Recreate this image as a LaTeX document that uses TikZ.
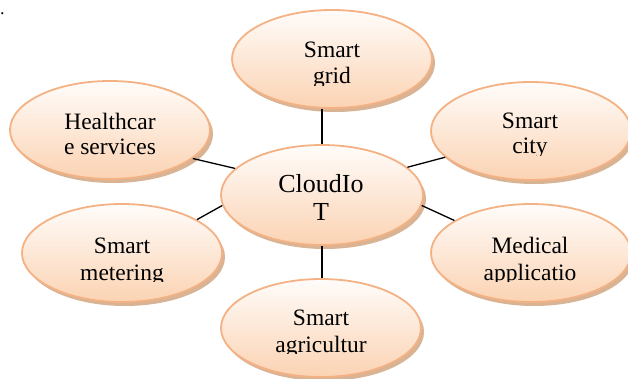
\documentclass[tikz,border=0pt]{standalone}
\usepackage{fontspec}
\setmainfont{Liberation Serif}
\usetikzlibrary{shapes.geometric,shadows}

\definecolor{rimpeach}{HTML}{F4B284}
\definecolor{fillhigh}{HTML}{FFFCFA}
\definecolor{filllow}{HTML}{FBD3B3}
\definecolor{shadebrown}{HTML}{D2A682}

\tikzset{
  bubble/.style={ellipse, draw=rimpeach, line width=1.8pt,
    top color=fillhigh, bottom color=filllow,
    minimum width=200pt, minimum height=98pt, inner sep=0pt,
    drop shadow={shadow xshift=3pt, shadow yshift=-4pt,
      fill=shadebrown, opacity=0.85}},
  hub/.style={bubble, minimum width=202pt, minimum height=100pt},
  lbl/.style={anchor=base, inner sep=0pt, font=\fontsize{23.5}{27}\selectfont},
  hublbl/.style={lbl, font=\fontsize{26}{28}\selectfont},
  link/.style={draw=black, line width=1.3pt}
}

% a two-line label whose second line is cut just below its baseline
\newcommand\bubbletext[7]{% name, x, base1, line1, base2, line2, style
  \node[#7] (#1a) at (#2,#3) {#4};
  \begin{scope}
    \clip (#2-100,#5-30) rectangle (#2+100,#5+1.5);
    \node[#7] (#1b) at (#2,#5) {#6};
  \end{scope}
}

\begin{document}
\begin{tikzpicture}[x=1pt,y=-1pt]
  \useasboundingbox (0,0) rectangle (628,379);
  \fill[white] (0,0) rectangle (628,379);

  \node[anchor=base, inner sep=0pt, font=\fontsize{18}{20}\selectfont] (dot) at (2.5,15) {.};

  % bubbles
  \node[hub]    (cloud)  at (322,195) {};
  \node[bubble] (grid)   at (332,59)  {};
  \node[bubble] (health) at (110,130) {};
  \node[bubble] (city)   at (531,131) {};
  \node[bubble] (meter)  at (122,253) {};
  \node[bubble] (medic)  at (531,253) {};
  \node[bubble] (agri)   at (321,328) {};

  % spokes from the hub
  \draw[link] (cloud.north) -- (cloud.north |- grid.south);
  \draw[link] (cloud.163) -- (health.341);
  \draw[link] (cloud.18)  -- (city.197);
  \draw[link] (cloud.186) -- (meter.24);
  \draw[link] (cloud.354) -- (medic.157);
  \draw[link] (cloud.south) -- (cloud.south |- agri.north);

  % labels
  \bubbletext{tcloud}{321}{193}{CloudIo}{220}{T}{hublbl}
  \bubbletext{tgrid}{332}{58}{Smart}{84}{grid}{lbl}
  \bubbletext{thealth}{110}{130}{Healthcar}{155}{e services}{lbl}
  \bubbletext{tcity}{530}{129}{Smart}{154}{city}{lbl}
  \bubbletext{tmeter}{122}{253}{Smart}{280}{metering}{lbl}
  \bubbletext{tmedic}{530}{253}{Medical}{280}{applicatio}{lbl}
  \bubbletext{tagri}{321}{325}{Smart}{352}{agricultur}{lbl}
\end{tikzpicture}
\end{document}
